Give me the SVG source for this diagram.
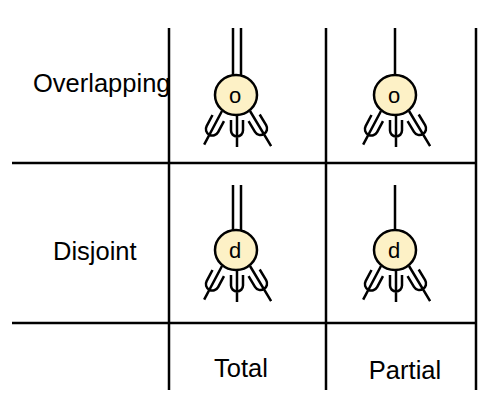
<svg xmlns="http://www.w3.org/2000/svg" width="492" height="404" viewBox="0 0 492 404">
<style>
.ln{stroke:#000;stroke-width:2.5;fill:none}
.fk{stroke:#000;stroke-width:2.5;fill:none;stroke-linecap:butt}
.nd{fill:#fdf1c6;stroke:#000;stroke-width:2.5}
.lbl{font-family:"Liberation Sans",Arial,sans-serif;font-size:25.5px;fill:#000}
.sym{font-family:"Liberation Sans",Arial,sans-serif;font-size:22px;fill:#000;text-anchor:middle}
</style>
<defs>
<path id="forkM" class="fk" d="M0,0 V34 M-6,7 V17.5 A6,6 0 0 0 6,17.5 V7"/>
<path id="forkL" class="fk" d="M0,0 V38 M-6.5,8 V20.5 A6.5,6.5 0 0 0 6.5,20.5 V8"/>
<path id="forkR" class="fk" d="M0,0 V41 M-6.5,8 V20.5 A6.5,6.5 0 0 0 6.5,20.5 V8"/>
</defs>
<g id="grid" class="ln">
<line x1="169" y1="28" x2="169" y2="390"/>
<line x1="326" y1="28" x2="326" y2="390"/>
<line x1="476" y1="28" x2="476" y2="390"/>
<line x1="12" y1="163" x2="476" y2="163"/>
<line x1="12" y1="323" x2="476" y2="323"/>
</g>
<g id="labels">
<text class="lbl" x="33" y="92">Overlapping</text>
<text class="lbl" x="53" y="260">Disjoint</text>
<text class="lbl" x="241" y="377" text-anchor="middle">Total</text>
<text class="lbl" x="405" y="379" text-anchor="middle">Partial</text>
</g>
<g id="connectors">
<line class="fk" x1="233" y1="28" x2="233" y2="78"/>
<line class="fk" x1="241" y1="28" x2="241" y2="78"/>
<use href="#forkM" transform="translate(237,113)"/>
<use href="#forkL" transform="translate(222,111) rotate(28)"/>
<use href="#forkR" transform="translate(250,111) rotate(-31)"/>
<line class="fk" x1="395" y1="28" x2="395" y2="78"/>
<use href="#forkM" transform="translate(396,113)"/>
<use href="#forkL" transform="translate(381,111) rotate(28)"/>
<use href="#forkR" transform="translate(409,111) rotate(-31)"/>
<line class="fk" x1="233" y1="185" x2="233" y2="233"/>
<line class="fk" x1="241" y1="185" x2="241" y2="233"/>
<use href="#forkM" transform="translate(237,268)"/>
<use href="#forkL" transform="translate(222,266) rotate(28)"/>
<use href="#forkR" transform="translate(250,266) rotate(-31)"/>
<line class="fk" x1="395" y1="185" x2="395" y2="233"/>
<use href="#forkM" transform="translate(396,268)"/>
<use href="#forkL" transform="translate(381,266) rotate(28)"/>
<use href="#forkR" transform="translate(409,266) rotate(-31)"/>
</g>
<g id="node-total-overlapping">
<ellipse class="nd" cx="236" cy="95" rx="21" ry="20"/>
<text class="sym" x="235" y="103">o</text>
</g>
<g id="node-partial-overlapping">
<ellipse class="nd" cx="395" cy="95" rx="21" ry="20"/>
<text class="sym" x="394" y="103">o</text>
</g>
<g id="node-total-disjoint">
<ellipse class="nd" cx="236" cy="250" rx="21" ry="20"/>
<text class="sym" x="235" y="258">d</text>
</g>
<g id="node-partial-disjoint">
<ellipse class="nd" cx="395" cy="250" rx="21" ry="20"/>
<text class="sym" x="394" y="258">d</text>
</g>
</svg>
